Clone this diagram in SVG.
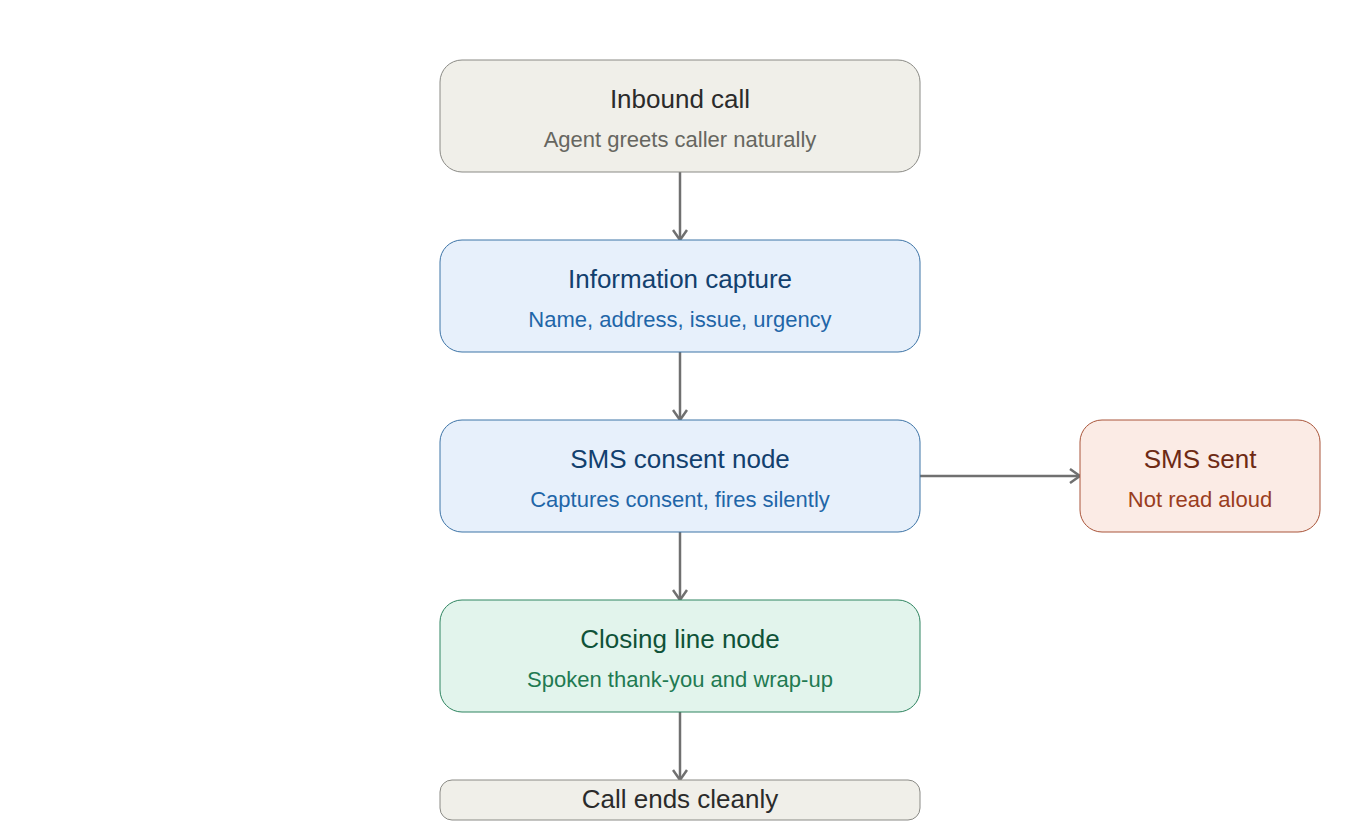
<svg xmlns="http://www.w3.org/2000/svg" width="1360" height="840" viewBox="0 0 1360 840">
<style>
text{font-family:"Liberation Sans",Arial,sans-serif;text-anchor:middle}
.t{font-size:26px}.s{font-size:22px}
.gray rect{fill:#f0efe9;stroke:#8a8a85}.gray .t{fill:#2b2b2b}.gray .s{fill:#666660}
.blue rect{fill:#e7f0fb;stroke:#3d74a6}.blue .t{fill:#12406e}.blue .s{fill:#1f66a8}
.green rect{fill:#e2f4ec;stroke:#2e8460}.green .t{fill:#0f5238}.green .s{fill:#1f7a52}
.red rect{fill:#fbebe5;stroke:#a9553a}.red .t{fill:#6e2a14}.red .s{fill:#9a3d1e}
.c line{stroke:#707070;stroke-width:2.5;marker-end:url(#a)}
</style>
<defs><marker id="a" viewBox="0 0 12 16" refX="11" refY="8" markerWidth="12" markerHeight="16" markerUnits="userSpaceOnUse" orient="auto"><path d="M1 1L11 8L1 15" fill="none" stroke="#707070" stroke-width="2.5"/></marker></defs>
<g class="c">
<line x1="680" y1="172" x2="680" y2="240"/>
<line x1="680" y1="352" x2="680" y2="420"/>
<line x1="680" y1="532" x2="680" y2="600"/>
<line x1="680" y1="712" x2="680" y2="780"/>
<line x1="920" y1="476" x2="1080" y2="476"/>
</g>
<g id="inbound" class="gray"><rect x="440" y="60" width="480" height="112" rx="22"/><text class="t" x="680" y="108">Inbound call</text><text class="s" x="680" y="147">Agent greets caller naturally</text></g>
<g id="capture" class="blue"><rect x="440" y="240" width="480" height="112" rx="22"/><text class="t" x="680" y="288">Information capture</text><text class="s" x="680" y="327">Name, address, issue, urgency</text></g>
<g id="consent" class="blue"><rect x="440" y="420" width="480" height="112" rx="22"/><text class="t" x="680" y="468">SMS consent node</text><text class="s" x="680" y="507">Captures consent, fires silently</text></g>
<g id="sms" class="red"><rect x="1080" y="420" width="240" height="112" rx="22"/><text class="t" x="1200" y="468">SMS sent</text><text class="s" x="1200" y="507">Not read aloud</text></g>
<g id="closing" class="green"><rect x="440" y="600" width="480" height="112" rx="22"/><text class="t" x="680" y="648">Closing line node</text><text class="s" x="680" y="687">Spoken thank-you and wrap-up</text></g>
<g id="end" class="gray"><rect x="440" y="780" width="480" height="40" rx="12"/><text class="t" x="680" y="808">Call ends cleanly</text></g>
</svg>
